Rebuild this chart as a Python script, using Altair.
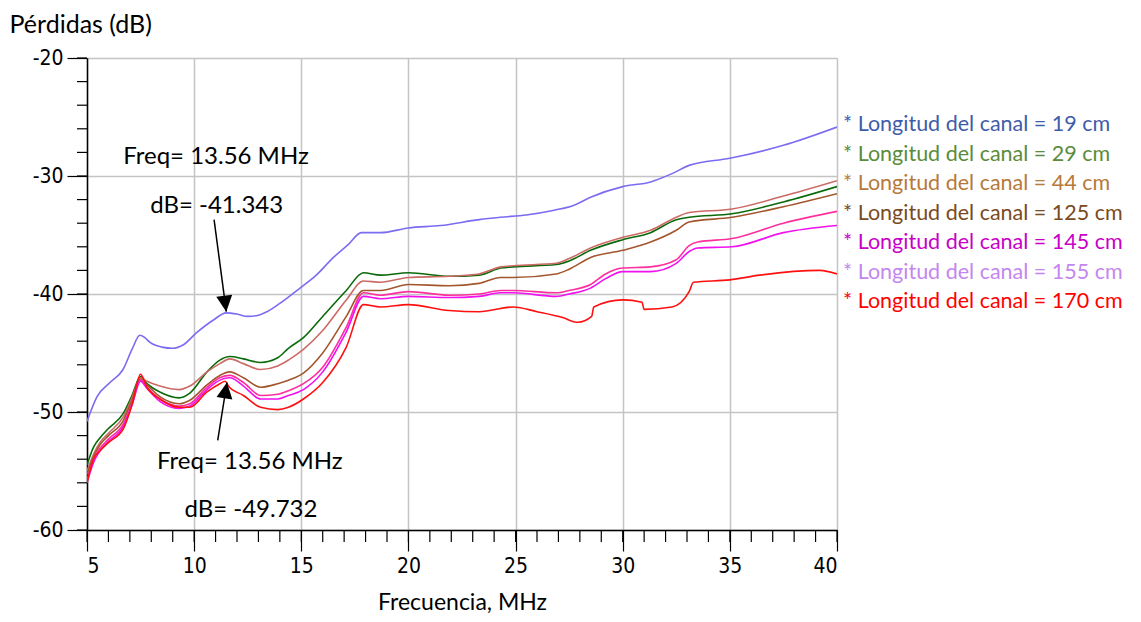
import altair as alt
import pandas as pd

# ---------------- data ----------------
series_names = ["19 cm", "29 cm", "44 cm", "125 cm", "145 cm", "155 cm", "170 cm"]
line_colors = ["#7B6CF2", "#0A6A0A", "#CC6B66", "#A3562E", "#FF2E9E", "#F010F0", "#FF1010"]
legend_text_colors = ["#3F5CAA", "#5A8C3A", "#B6793A", "#7A4A1E", "#C800C8", "#C486F0", "#FF0000"]

x19 = [5.0, 5.47, 6.07, 6.68, 7.1, 7.47, 7.7, 7.94, 8.5, 9.0, 9.5, 10.1, 10.9, 11.5, 12.0, 12.5,
       13.0, 13.4, 14.0, 14.94, 15.7, 16.5, 17.2, 17.8, 18.7, 20.0, 21.5, 23.3, 24.3, 25.5, 26.8,
       27.7, 28.5, 30.0, 31.3, 32.3, 33.1, 35.0, 37.5, 40.0]
y19 = [-50.8, -48.7, -47.5, -46.4, -44.7, -43.5, -43.7, -44.1, -44.5, -44.6, -44.3, -43.3, -42.2,
       -41.6, -41.7, -41.9, -41.8, -41.5, -40.8, -39.5, -38.4, -36.9, -35.8, -34.8, -34.8, -34.4,
       -34.2, -33.7, -33.5, -33.3, -32.9, -32.5, -31.8, -30.9, -30.5, -29.8, -29.1, -28.5, -27.4,
       -25.85]

x_common = [5.0, 5.3, 5.6, 6.0, 6.7, 7.1, 7.5, 7.8, 8.4, 9.3, 9.8, 10.6, 11.2, 11.67, 12.3, 13.1,
            13.9, 14.4, 15.1, 16.0, 17.1, 17.9, 18.7, 20.0, 21.9, 23.3, 24.3, 24.9, 26.9, 27.5,
            28.5, 30.0, 31.3, 32.5, 33.1, 35.1, 37.5, 40.0]
y29 = [-54.5, -53.0, -52.2, -51.4, -50.1, -48.6, -47.0, -47.6, -48.3, -48.8, -48.4, -46.6, -45.6,
       -45.3, -45.5, -45.8, -45.4, -44.6, -43.7, -41.9, -39.7, -38.2, -38.4, -38.2, -38.5, -38.4,
       -37.8, -37.7, -37.5, -37.2, -36.3, -35.4, -34.8, -33.7, -33.5, -33.2, -32.2, -30.9]
y44 = [-55.0, -53.6, -52.6, -51.8, -50.4, -48.8, -47.1, -47.4, -47.8, -48.1, -47.8, -46.6, -45.9,
       -45.5, -45.9, -46.4, -46.1, -45.6, -44.7, -43.1, -40.5, -38.9, -39.0, -38.6, -38.5, -38.3,
       -37.7, -37.6, -37.4, -37.0, -36.1, -35.2, -34.6, -33.5, -33.1, -32.8, -31.7, -30.4]
y125 = [-55.3, -53.8, -52.8, -52.0, -50.7, -49.0, -47.2, -47.7, -48.7, -49.3, -49.0, -47.7, -46.9,
        -46.6, -47.1, -47.9, -47.6, -47.3, -46.7, -45.0, -41.9, -39.7, -39.7, -39.2, -39.3, -39.1,
        -38.6, -38.6, -38.3, -37.9, -36.9, -36.3, -35.6, -34.6, -33.9, -33.5, -32.6, -31.5]

x_pink = [5.0, 5.3, 5.6, 6.0, 6.7, 7.1, 7.5, 7.8, 8.4, 9.3, 9.8, 10.6, 11.2, 11.67, 12.3, 13.1,
          13.9, 14.4, 15.1, 16.0, 17.1, 17.9, 18.7, 20.0, 21.9, 23.3, 24.3, 24.9, 26.9, 27.5,
          28.5, 29.2, 30.0, 31.3, 32.5, 33.1, 33.5, 35.1, 37.5, 40.0]
y145 = [-55.8, -54.0, -53.1, -52.3, -51.0, -49.3, -47.3, -47.9, -48.9, -49.5, -49.3, -47.9, -47.1,
        -46.9, -47.5, -48.6, -48.5, -48.2, -47.6, -46.2, -42.8, -39.9, -40.1, -39.8, -40.1, -40.0,
        -39.7, -39.7, -39.9, -39.7, -39.2, -38.3, -37.8, -37.7, -37.1, -35.9, -35.6, -35.3, -34.0,
        -33.0]
y155 = [-56.0, -54.3, -53.3, -52.5, -51.2, -49.4, -47.4, -48.0, -49.1, -49.7, -49.5, -48.1, -47.3,
        -47.1, -47.8, -48.9, -48.9, -48.6, -48.1, -46.6, -43.2, -40.2, -40.4, -40.2, -40.3, -40.2,
        -39.9, -39.9, -40.2, -40.0, -39.5, -38.7, -38.1, -38.1, -37.4, -36.4, -36.1, -36.0, -34.8,
        -34.2]

x170 = [5.0, 5.3, 5.6, 6.0, 6.7, 7.1, 7.5, 7.8, 8.4, 9.3, 9.8, 10.6, 11.2, 11.45, 11.6, 12.3,
        13.1, 13.9, 14.4, 15.1, 16.0, 17.1, 17.9, 18.7, 20.0, 21.9, 23.3, 24.9, 26.0, 27.2, 27.9,
        28.55, 28.65, 30.0, 30.9, 31.0, 32.3, 33.1, 33.3, 35.0, 36.4, 39.2, 40.0]
y170 = [-56.0, -54.0, -53.3, -52.6, -51.4, -49.4, -46.8, -47.9, -48.9, -49.6, -49.6, -48.3, -47.6,
        -47.4, -47.8, -48.6, -49.6, -49.8, -49.6, -48.9, -47.5, -44.5, -40.9, -41.1, -40.9, -41.4,
        -41.5, -41.1, -41.5, -42.0, -42.4, -41.9, -41.1, -40.5, -40.7, -41.3, -41.1, -39.8, -39.0,
        -38.8, -38.4, -38.0, -38.3]

series_x = [x19, x_common, x_common, x_common, x_pink, x_pink, x170]
series_y = [y19, y29, y44, y125, y145, y155, y170]

x_major = [5, 10, 15, 20, 25, 30, 35, 40]
y_major = [-20, -30, -40, -50, -60]
x_minor = list(range(5, 41))
y_minor = list(range(-60, -19, 2))

# annotations (markers)
ann_text = ["Freq= 13.56 MHz", "dB= -41.343", "Freq= 13.56 MHz", "dB= -49.732"]
ann_x = [11.02, 11.05, 12.6, 12.65]
ann_y = [-28.4, -32.5, -54.2, -58.3]
arrow_tail_x = [10.93, 11.1]
arrow_tail_y = [-33.7, -52.4]
arrow_tip_x = [11.5, 11.53]
arrow_tip_y = [-41.5, -47.5]
arrow_angle = [352.6, 8.8]
arrow_shape = ["M0,0L-0.5,-1L0.5,-1Z", "M0,0L-0.5,1L0.5,1Z"]

legend_labels = ["* Longitud del canal = " + s for s in series_names]
legend_y = [-25.7, -28.2, -30.7, -33.2, -35.7, -38.2, -40.7]

# ---------------- build tables ----------------
rows = []
for name, xs, ys in zip(series_names, series_x, series_y):
    for i, (a, b) in enumerate(zip(xs, ys)):
        rows.append({"serie": name, "f": a, "db": b, "i": i})
df = pd.DataFrame(rows)

W, H = 750, 472
FONT = "Lato"
NARROW = "'Liberation Sans Narrow', 'DejaVu Sans Condensed', sans-serif"
HYPHEN = "datum.value < 0 ? '-' + abs(datum.value) : '' + datum.value"

xscale = alt.Scale(domain=[5, 40], nice=False, zero=False)
yscale = alt.Scale(domain=[-60, -20], nice=False, zero=False)

lines = alt.Chart(df).mark_line(strokeWidth=1.6, clip=True, interpolate="monotone").encode(
    x=alt.X("f:Q", scale=xscale,
            axis=alt.Axis(values=x_major, tickSize=21, tickColor="black", tickWidth=1.2,
                          labelFont=NARROW, labelFontSize=21, labelColor="black", labelPadding=4,
                          labelExpr=HYPHEN,
                          domainColor="black", domainWidth=1.5,
                          grid=True, gridColor="#C4C4C4", gridWidth=1.5,
                          title="Frecuencia, MHz", titleFont=FONT, titleFontSize=23,
                          titleFontWeight="normal", titleColor="black", titlePadding=15)),
    y=alt.Y("db:Q", scale=yscale,
            axis=alt.Axis(values=y_major, tickSize=20, tickColor="black", tickWidth=1.2,
                          labelFont=NARROW, labelFontSize=21, labelColor="black", labelPadding=4,
                          labelExpr=HYPHEN,
                          domainColor="black", domainWidth=1.5,
                          grid=True, gridColor="#C4C4C4", gridWidth=1.5,
                          title="Pérdidas (dB)", titleFont=FONT, titleFontSize=25,
                          titleFontWeight="normal", titleColor="black", titleAngle=0,
                          titleAlign="left", titleBaseline="middle", titleX=-78, titleY=-34)),
    color=alt.Color("serie:N", scale=alt.Scale(domain=series_names, range=line_colors), legend=None),
    order="i:Q",
)

xminor_df = pd.DataFrame({"v": x_minor})
yminor_df = pd.DataFrame({"v": y_minor})
xminor = alt.Chart(xminor_df).mark_rule(color="black", strokeWidth=1.2).encode(
    x=alt.X("v:Q", scale=xscale), y=alt.value(H), y2=alt.value(H + 12))
yminor = alt.Chart(yminor_df).mark_rule(color="black", strokeWidth=1.2).encode(
    y=alt.Y("v:Q", scale=yscale), x=alt.value(-10), x2=alt.value(0))

ann_df = pd.DataFrame({"t": ann_text, "x": ann_x, "y": ann_y})
ann = alt.Chart(ann_df).mark_text(font=FONT, fontSize=24, color="black", align="center",
                                  baseline="middle").encode(
    x=alt.X("x:Q", scale=xscale), y=alt.Y("y:Q", scale=yscale), text="t:N")

arr_df = pd.DataFrame({"x": arrow_tail_x, "y": arrow_tail_y, "x2": arrow_tip_x, "y2": arrow_tip_y,
                       "ang": arrow_angle, "shape": arrow_shape})
arr_lines = alt.Chart(arr_df).mark_rule(color="black", strokeWidth=1.5).encode(
    x=alt.X("x:Q", scale=xscale), y=alt.Y("y:Q", scale=yscale), x2="x2:Q", y2="y2:Q")
arr_heads = alt.Chart(arr_df).mark_point(filled=True, color="black", opacity=1, size=1024).encode(
    x=alt.X("x2:Q", scale=xscale), y=alt.Y("y2:Q", scale=yscale),
    shape=alt.Shape("shape:N", scale=None), angle=alt.Angle("ang:Q", scale=None))

leg_df = pd.DataFrame({"t": legend_labels, "y": legend_y, "c": legend_text_colors})
leg = alt.Chart(leg_df).mark_text(font=FONT, fontSize=21.5, align="left", baseline="middle").encode(
    x=alt.value(W + 6), y=alt.Y("y:Q", scale=yscale), text="t:N",
    color=alt.Color("c:N", scale=None))

chart = alt.layer(lines, xminor, yminor, arr_lines, arr_heads, ann, leg).properties(
    width=W, height=H,
    autosize=alt.AutoSizeParams(type="none"),
    padding={"left": 79, "top": 50, "right": 296, "bottom": 84},
).configure_view(stroke="black", strokeWidth=1.5).configure(background="white")

chart.save("out.html", embed_options={"renderer": "svg", "actions": False})
